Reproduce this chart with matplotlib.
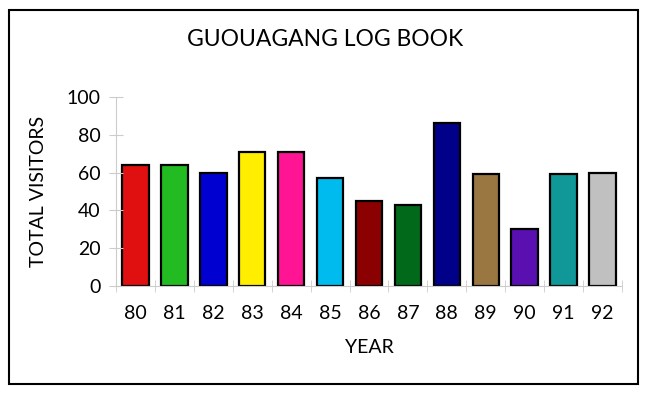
import numpy as np
import matplotlib.pyplot as plt
from matplotlib.patches import Rectangle

# Data
years = ['80', '81', '82', '83', '84', '85', '86', '87', '88', '89', '90', '91', '92']
visitors = [64, 64, 60, 71, 71, 57, 45, 43, 86, 59, 30, 59, 60]
colors = ['#e01010', '#22bb22', '#0000d0', '#ffee00', '#ff1493', '#00bbee',
          '#8b0000', '#006a1a', '#000088', '#9a7740', '#5a10b0', '#109898', '#c0c0c0']

plt.rcParams['font.family'] = ['Lato', 'DejaVu Sans']

fig = plt.figure(figsize=(6.46, 3.93), dpi=100)
ax = fig.add_axes([116/646, 1 - 286/393, (622-116)/646, (286-97)/393])

x = np.arange(len(years))
ax.bar(x, visitors, width=0.68, color=colors, edgecolor='black', linewidth=1.6)

ax.set_xlim(-0.5, len(years) - 0.5)
ax.set_ylim(0, 100)
ax.set_yticks(np.arange(0, 101, 20))
ax.set_xticks(x)
ax.set_xticklabels(years)
ax.set_xticks(np.arange(-0.5, len(years), 1), minor=True)
ax.tick_params(axis='x', which='major', length=0, pad=14, labelsize=14)
ax.tick_params(axis='x', which='minor', length=8, direction='inout', color='#cccccc')
ax.tick_params(axis='y', length=10, direction='inout', color='#cccccc', pad=6, labelsize=14)

for s in ['top', 'right']:
    ax.spines[s].set_visible(False)
for s in ['left', 'bottom']:
    ax.spines[s].set_color('#cccccc')
    ax.spines[s].set_linestyle((0, (2, 1)))

ax.set_xlabel('YEAR', fontsize=14, labelpad=12)
ax.set_ylabel('TOTAL VISITORS', fontsize=14, labelpad=14)
fig.text(0.503, 1 - 40/393, 'GUOUAGANG LOG BOOK', fontsize=16.5, ha='center', va='center')

# outer border
fig.patches.append(Rectangle((9/646, 1 - 384/393), 629/646, 374/393, transform=fig.transFigure,
                             fill=False, edgecolor='black', linewidth=1.5))

fig.savefig('out.png', dpi=100)
